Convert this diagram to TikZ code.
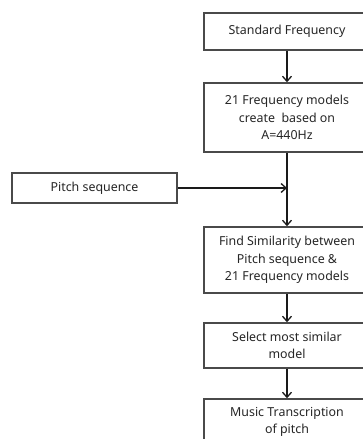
\documentclass[tikz,border=0pt]{standalone}
\usepackage{fontspec}
\setmainfont{Noto Sans}
\usetikzlibrary{arrows.meta}
\definecolor{boxline}{HTML}{4A4A4A}
\definecolor{arrline}{HTML}{1A1A1A}
\tikzset{
  x=1pt, y=-1pt,
  box/.style={draw=boxline, line width=1.6pt, align=center, inner sep=0pt,
    font=\fontsize{12.4}{17.5}\selectfont, text=black!85},
  conn/.style={draw=arrline, line width=1.3pt, -{Straight Barb[length=5pt,width=9pt,line width=1.3pt]}},
}
\begin{document}
\begin{tikzpicture}
\useasboundingbox (0,0) rectangle (363,439);
\clip (0,0) rectangle (363,439);
\node[box, minimum width=166pt, minimum height=37pt] (sf) at (287,31.5) {Standard Frequency};
\node[box, minimum width=166pt, minimum height=69pt] (fm) at (287,117.5) {21 Frequency models\\create~ based on\\A=440Hz};
\node[box, minimum width=165pt, minimum height=30pt] (ps) at (94.5,188) {Pitch sequence};
\node[box, minimum width=166pt, minimum height=66pt] (fs) at (287,260) {Find Similarity between\\Pitch sequence \&\\21 Frequency models};
\node[box, minimum width=166pt, minimum height=45pt] (sm) at (287,345.5) {Select most similar\\model};
\node[box, minimum width=166pt, minimum height=46pt] (mt) at (287,422) {Music Transcription\\of pitch};
\coordinate (j) at (287,188);
\draw[conn] (sf) -- (fm);
\draw[conn] (fm) -- (fs);
\draw[conn] (ps) -- (j);
\draw[conn] (fs) -- (sm);
\draw[conn] (sm) -- (mt);
\end{tikzpicture}
\end{document}
